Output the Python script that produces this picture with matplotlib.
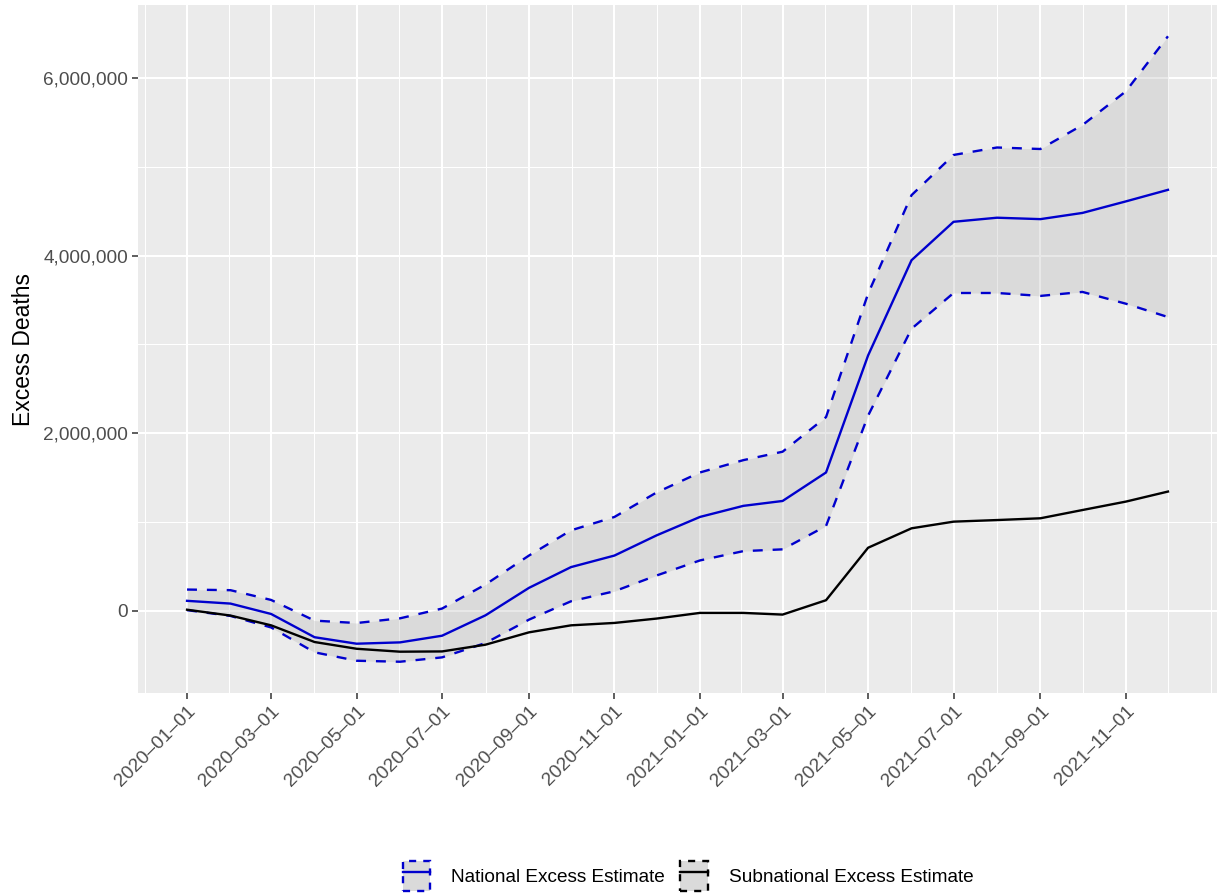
import matplotlib
matplotlib.use("Agg")
import matplotlib.pyplot as plt
import matplotlib.dates as mdates
from matplotlib.patches import Patch
from matplotlib.lines import Line2D
from matplotlib.ticker import FuncFormatter, FixedLocator
from matplotlib.legend_handler import HandlerTuple
import numpy as np
import pandas as pd

plt.rcParams["font.family"] = ["Liberation Sans", "DejaVu Sans"]

# Monthly cumulative excess deaths (millions)
months = pd.date_range("2020-01-01", "2021-12-01", freq="MS")

national_mean = [0.110, 0.079, -0.038, -0.300, -0.373, -0.358, -0.283, -0.053,
                 0.256, 0.490, 0.620, 0.847, 1.055, 1.180, 1.235, 1.556,
                 2.874, 3.947, 4.380, 4.426, 4.410, 4.480, 4.610, 4.740]
national_upper = [0.237, 0.230, 0.120, -0.113, -0.140, -0.087, 0.023, 0.294,
                  0.620, 0.904, 1.055, 1.330, 1.556, 1.695, 1.790, 2.180,
                  3.570, 4.680, 5.133, 5.217, 5.200, 5.470, 5.850, 6.470]
national_lower = [0.005, -0.060, -0.190, -0.470, -0.565, -0.576, -0.527, -0.365,
                  -0.102, 0.105, 0.218, 0.395, 0.565, 0.670, 0.690, 0.953,
                  2.196, 3.175, 3.578, 3.578, 3.545, 3.590, 3.457, 3.307]
subnational_mean = [0.010, -0.056, -0.166, -0.354, -0.430, -0.463, -0.460, -0.384,
                    -0.245, -0.166, -0.139, -0.090, -0.026, -0.026, -0.045, 0.117,
                    0.708, 0.927, 1.002, 1.020, 1.040, 1.133, 1.228, 1.341]

y_breaks = [0, 2_000_000, 4_000_000, 6_000_000]
x_breaks = pd.date_range("2020-01-01", "2021-11-01", freq="2MS")

series_labels = ["National Excess Estimate", "Subnational Excess Estimate"]

scale = 1e6
nat_mean = np.array(national_mean) * scale
nat_up = np.array(national_upper) * scale
nat_lo = np.array(national_lower) * scale
sub_mean = np.array(subnational_mean) * scale

BLUE = "#0000CD"
PANEL = "#EBEBEB"
LW = 1.7
DASH = (4.2, 4.2)
FS = 13.7

fig = plt.figure(figsize=(12.19, 8.96), dpi=100)
ax = fig.add_axes([138 / 1219, 1 - 693 / 896, (1217 - 138) / 1219, (693 - 5) / 896])
ax.set_facecolor(PANEL)
for s in ax.spines.values():
    s.set_visible(False)

ax.fill_between(months, nat_lo, nat_up, color="#B3B3B3", alpha=0.3, linewidth=0, zorder=2)
ax.plot(months, nat_up, color=BLUE, lw=LW, ls=(0, DASH), zorder=3)
ax.plot(months, nat_lo, color=BLUE, lw=LW, ls=(0, DASH), zorder=3)
ax.plot(months, nat_mean, color=BLUE, lw=LW, zorder=3)
ax.plot(months, sub_mean, color="black", lw=LW, zorder=4)

# ggplot-style 5% expansion
x0 = mdates.date2num(months[0]); x1 = mdates.date2num(months[-1])
dx = (x1 - x0) * 0.05
ax.set_xlim(x0 - dx, x1 + dx)
ymin = min(nat_lo.min(), sub_mean.min()); ymax = max(nat_up.max(), sub_mean.max())
dy = (ymax - ymin) * 0.05
ax.set_ylim(ymin - dy, ymax + dy)

# grid
xb = mdates.date2num(x_breaks)
minor_x = list((xb[:-1] + xb[1:]) / 2)
minor_x = [xb[0] - (xb[1] - xb[0]) / 2] + minor_x + [xb[-1] + (xb[1] - xb[0]) / 2,
                                                    mdates.date2num(pd.Timestamp("2022-01-01"))]
for v in minor_x:
    ax.axvline(v, color="white", lw=0.75, zorder=1)
for v in [1e6, 3e6, 5e6]:
    ax.axhline(v, color="white", lw=0.75, zorder=1)
for v in xb:
    ax.axvline(v, color="white", lw=1.5, zorder=1)
for v in y_breaks:
    ax.axhline(v, color="white", lw=1.5, zorder=1)

ax.xaxis.set_major_locator(FixedLocator(xb))
ax.set_xticklabels([d.strftime("%Y\u2013%m\u2013%d") for d in x_breaks],
                   rotation=45, ha="right", va="top", rotation_mode="anchor")
ax.yaxis.set_major_locator(FixedLocator(y_breaks))
ax.yaxis.set_major_formatter(FuncFormatter(lambda v, p: f"{int(round(v)):,}"))

ax.tick_params(axis="both", which="major", length=4, width=1.1, color="#333333",
               labelsize=FS, labelcolor="#4D4D4D", pad=3)
ax.set_ylabel("Excess Deaths", fontsize=16.5, color="black", labelpad=6)

handles = [
    (Patch(facecolor="#DADADA", edgecolor=BLUE, linestyle=(0, (3, 3)), linewidth=LW),
     Line2D([], [], color=BLUE, lw=LW)),
    (Patch(facecolor="#DADADA", edgecolor="black", linestyle=(0, (3, 3)), linewidth=LW),
     Line2D([], [], color="black", lw=LW)),
]
fig.legend(handles, series_labels, loc="center", bbox_to_anchor=(688 / 1219, 1 - 876 / 896),
           ncol=2, frameon=False, fontsize=FS, handlelength=1.45, handleheight=2.0,
           handletextpad=1.1, columnspacing=0.8,
           handler_map={tuple: HandlerTuple(ndivide=1, pad=0)})

fig.savefig("out.png", dpi=100)
